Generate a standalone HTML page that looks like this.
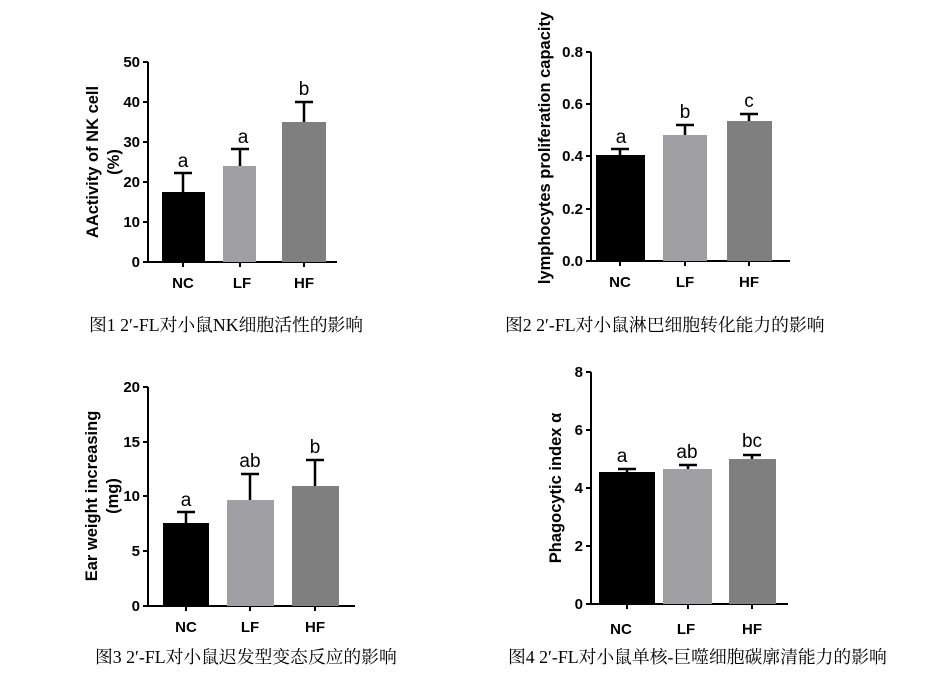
<!DOCTYPE html>
<html><head><meta charset="utf-8"><style>
body{margin:0;background:#fff}
svg{display:block}
.t{font-family:"Liberation Sans",Arial,sans-serif;font-weight:bold;font-size:15px}
.l{font-family:"Liberation Sans",Arial,sans-serif;font-size:19px}
.y{font-family:"Liberation Sans",Arial,sans-serif;font-weight:bold;font-size:16.5px}
.c{font-family:"Liberation Serif","Noto Serif CJK SC",serif;font-size:17.8px}
</style></head><body>
<svg width="936" height="678" viewBox="0 0 936 678" xmlns="http://www.w3.org/2000/svg">
<g stroke="#000" stroke-width="2" fill="none">
<path d="M148 62V262H337"/>
<path d="M143 62h5M143 102h5M143 142h5M143 182h5M143 222h5M143 262h5M183 262v5M240 262v5M304 262v5"/>
<path d="M591 52V261H790"/>
<path d="M586 52h5M586 104h5M586 156h5M586 209h5M586 261h5M620 261v5M685 261v5M749 261v5"/>
<path d="M148 387V606H355"/>
<path d="M143 387h5M143 442h5M143 496h5M143 551h5M143 606h5M186 606v5M250 606v5M315 606v5"/>
<path d="M591 372V604H788"/>
<path d="M586 372h5M586 430h5M586 488h5M586 546h5M586 604h5M627 604v5M688 604v5M752 604v5"/>
</g>
<rect x="162" y="192" width="43" height="70" fill="#000"/>
<rect x="223" y="166" width="33" height="96" fill="#a0a0a4"/>
<rect x="282" y="122" width="44" height="140" fill="#7f7f7f"/>
<rect x="596" y="155" width="49" height="106" fill="#000"/>
<rect x="663" y="135" width="44" height="126" fill="#a0a0a4"/>
<rect x="727" y="121" width="45" height="140" fill="#7f7f7f"/>
<rect x="163" y="523" width="46" height="83" fill="#000"/>
<rect x="227" y="500" width="47" height="106" fill="#a0a0a4"/>
<rect x="292" y="486" width="47" height="120" fill="#7f7f7f"/>
<rect x="599" y="472" width="56" height="132" fill="#000"/>
<rect x="663" y="469" width="49" height="135" fill="#a0a0a4"/>
<rect x="729" y="459" width="47" height="145" fill="#7f7f7f"/>
<g stroke="#000" stroke-width="2.5" fill="none">
<path d="M183 192V173M174 173h18M240 166V149M231 149h18M304 122V102M295 102h18"/>
<path d="M620 155V149M611 149h18M685 135V125M676 125h18M749 121V114M740 114h18"/>
<path d="M186 523V512M177 512h18M250 500V474M241 474h18M315 486V460M306 460h18"/>
<path d="M627 472V469M618 469h18M688 469V465M679 465h18M752 459V455M743 455h18"/>
</g>
<g class="t" text-anchor="end">
<text x="140" y="67">50</text><text x="140" y="107">40</text><text x="140" y="147">30</text><text x="140" y="187">20</text><text x="140" y="227">10</text><text x="140" y="267">0</text>
<text x="583" y="57">0.8</text><text x="583" y="109">0.6</text><text x="583" y="161">0.4</text><text x="583" y="214">0.2</text><text x="583" y="266">0.0</text>
<text x="140" y="392">20</text><text x="140" y="447">15</text><text x="140" y="501">10</text><text x="140" y="556">5</text><text x="140" y="611">0</text>
<text x="583" y="377">8</text><text x="583" y="435">6</text><text x="583" y="493">4</text><text x="583" y="551">2</text><text x="583" y="609">0</text>
</g>
<g class="t" text-anchor="middle">
<text x="183" y="288">NC</text><text x="242" y="288">LF</text><text x="304" y="288">HF</text>
<text x="620" y="287">NC</text><text x="685" y="287">LF</text><text x="749" y="287">HF</text>
<text x="186" y="632">NC</text><text x="250" y="632">LF</text><text x="315" y="632">HF</text>
<text x="621" y="634">NC</text><text x="686" y="634">LF</text><text x="752" y="634">HF</text>
</g>
<g class="l" text-anchor="middle">
<text x="183" y="167">a</text><text x="243" y="143">a</text><text x="304" y="95">b</text>
<text x="621" y="143">a</text><text x="685" y="118">b</text><text x="749" y="107">c</text>
<text x="186" y="506">a</text><text x="250" y="467">ab</text><text x="315" y="453">b</text>
<text x="622" y="462">a</text><text x="687" y="458">ab</text><text x="752" y="447">bc</text>
</g>
<g class="y" text-anchor="middle">
<text transform="translate(98,162) rotate(-90)">AActivity of NK cell</text>
<text transform="translate(119,162) rotate(-90)">(%)</text>
<text transform="translate(550,148) rotate(-90)">lymphocytes proliferation capacity</text>
<text transform="translate(97,496) rotate(-90)">Ear weight increasing</text>
<text transform="translate(118,496) rotate(-90)">(mg)</text>
<text transform="translate(561,488) rotate(-90)">Phagocytic index α</text>
</g>
<g class="c">
<text x="89" y="331">图1 2′-FL对小鼠NK细胞活性的影响</text>
<text x="505" y="331">图2 2′-FL对小鼠淋巴细胞转化能力的影响</text>
<text x="95" y="663">图3 2′-FL对小鼠迟发型变态反应的影响</text>
<text x="508" y="663">图4 2′-FL对小鼠单核-巨噬细胞碳廓清能力的影响</text>
</g>
</svg>
</body></html>
